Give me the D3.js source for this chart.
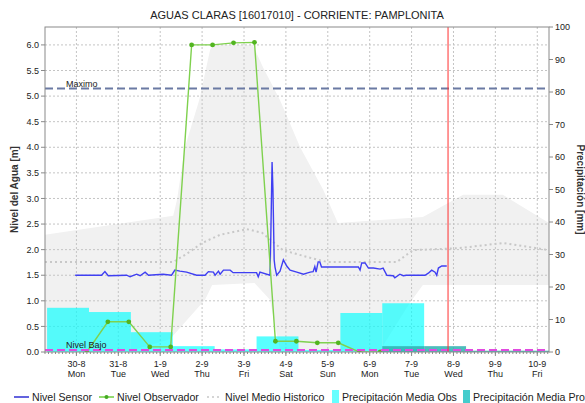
<!DOCTYPE html>
<html><head><meta charset="utf-8">
<script src="https://cdn.jsdelivr.net/npm/d3@7"></script>
<style>body{margin:0;background:#fff}svg{display:block;font-family:"Liberation Sans",Arial,sans-serif}</style>
</head><body><svg id="c" width="585" height="403"></svg>
<script>
// ---- data (x in days, 0 = 30-8 00:00) ----
const dayLabels = ["30-8","31-8","1-9","2-9","3-9","4-9","5-9","6-9","7-9","8-9","9-9","10-9"];
const weekLabels = ["Mon","Tue","Wed","Thu","Fri","Sat","Sun","Mon","Tue","Wed","Thu","Fri"];
const levelTicks = [0,0.5,1,1.5,2,2.5,3,3.5,4,4.5,5,5.5,6];
const precipTicks = [0,10,20,30,40,50,60,70,80,90,100];

const sensorT = [-0.03,0.60,0.68,0.76,1.20,1.28,1.44,1.52,1.64,1.72,2.07,2.27,2.35,2.47,2.63,2.87,3.07,3.15,3.27,3.31,3.39,3.43,3.51,3.67,3.74,4.30,4.34,4.38,4.62,4.64,4.67,4.69,4.72,4.74,4.78,4.86,4.94,5.02,5.10,5.26,5.42,5.50,5.58,5.65,5.69,5.72,5.77,5.81,5.85,5.93,6.73,6.77,6.81,6.89,6.97,7.09,7.25,7.32,7.41,7.56,7.60,7.72,7.80,7.88,8.32,8.40,8.48,8.56,8.60,8.64,8.72,8.84];
const sensorV = [1.50,1.50,1.57,1.49,1.50,1.47,1.52,1.49,1.56,1.50,1.52,1.50,1.60,1.58,1.56,1.50,1.50,1.57,1.56,1.50,1.58,1.52,1.60,1.60,1.55,1.55,1.47,1.56,1.50,2.27,3.71,3.20,1.80,1.66,1.50,1.58,1.80,1.68,1.60,1.56,1.52,1.54,1.56,1.57,1.67,1.56,1.76,1.76,1.66,1.66,1.66,1.60,1.74,1.74,1.64,1.64,1.62,1.64,1.50,1.49,1.45,1.52,1.49,1.50,1.50,1.54,1.60,1.56,1.50,1.64,1.68,1.68];

const obsT = [0.25,0.75,1.25,1.75,2.25,2.75,3.25,3.75,4.25,4.75,5.25,5.75,6.25,6.75,7.25];
const obsV = [0.0,0.59,0.59,0.10,0.10,6.00,6.00,6.04,6.05,0.21,0.21,0.18,0.18,0.0,0.0];

const meanT = [-0.75,1.28,2.31,2.60,3.0,3.43,4.07,4.43,4.93,5.58,5.98,7.65,8.03,9.15,10.18,11.28];
const meanV = [1.76,1.76,1.76,1.90,2.13,2.29,2.40,2.33,1.99,1.84,1.76,1.76,1.99,2.03,2.13,1.99];

const bandHiT = [-0.75,2.31,2.40,2.59,2.93,3.19,3.26,4.21,4.45,4.86,5.34,5.89,6.24,8.27,9.23,10.18,11.28];
const bandHiV = [2.29,2.66,2.97,4.00,4.92,5.90,6.00,6.00,5.57,4.92,4.00,3.17,2.52,2.64,3.07,3.07,2.52];
const bandLoT = [-0.75,1.28,2.23,3.07,3.24,4.25,4.62,4.86,7.24,7.96,8.27,11.28];
const bandLoV = [0,0.02,0.25,1.02,1.31,1.35,1.02,0.04,0.02,0.96,1.31,1.31];

const barStart = [-0.7,0.3,1.3,2.3,3.3,4.3,5.3,6.3,7.3,8.3,9.3,10.3];
const precipObs = [13.6,12.3,6.1,1.8,0.8,4.8,0.6,12.0,15.0,0,0,0];
const precipPro = [0,0,0,0,0,0,0,0,1.8,1.8,0.4,0.4];

const nivelMaximo = 5.15;
const nivelBajo = 0.04;
const nowT = 8.87;

// ---- layout ----
const L = 45, R = 549, T = 27, B = 352;
const svg = d3.select("#c");
const x = d3.scaleLinear().domain([-0.75, 11.28]).range([L, R]);
const y = d3.scaleLinear().domain([0, 6.35]).range([B, T]);
const yp = d3.scaleLinear().domain([0, 100]).range([B, T]);

svg.append("defs").append("clipPath").attr("id","clip")
  .append("rect").attr("x",L).attr("y",T).attr("width",R-L).attr("height",B-T);
const g = svg.append("g").attr("clip-path","url(#clip)");

// band
const bandPts = bandHiT.map((t,i)=>[x(t),y(bandHiV[i])])
  .concat(bandLoT.map((t,i)=>[x(t),y(bandLoV[i])]).reverse());
g.append("path").attr("d", d3.line()(bandPts) + "Z").attr("fill","#f1f1f1");

// grid
const gridC = "#c4c4c4";
g.selectAll(".gy").data(levelTicks.slice(1)).join("line")
  .attr("x1",L).attr("x2",R).attr("y1",d=>y(d)).attr("y2",d=>y(d))
  .attr("stroke",gridC).attr("stroke-width",1).attr("stroke-dasharray","2,2");
g.selectAll(".gx").data(dayLabels.map((d,i)=>i)).join("line")
  .attr("x1",d=>x(d)).attr("x2",d=>x(d)).attr("y1",T).attr("y2",B)
  .attr("stroke",gridC).attr("stroke-width",1).attr("stroke-dasharray","2,2");

// mean historic
g.append("path").datum(meanT.map((t,i)=>[t,meanV[i]]))
  .attr("d", d3.line().x(d=>x(d[0])).y(d=>y(d[1])))
  .attr("fill","none").attr("stroke","#c8c8c8").attr("stroke-width",2).attr("stroke-dasharray","2,3");

// bars
g.selectAll(".bo").data(barStart.map((s,i)=>({s,v:precipObs[i]}))).join("rect")
  .attr("x",d=>x(d.s)).attr("width",d=>x(d.s+1)-x(d.s))
  .attr("y",d=>yp(d.v)).attr("height",d=>B-yp(d.v))
  .attr("fill","#00ffff").attr("fill-opacity",0.65);
g.selectAll(".bp").data(barStart.map((s,i)=>({s,v:precipPro[i]}))).join("rect")
  .attr("x",d=>x(d.s)).attr("width",d=>x(d.s+1)-x(d.s))
  .attr("y",d=>yp(d.v)).attr("height",d=>B-yp(d.v))
  .attr("fill","#2fb0b0").attr("fill-opacity",0.85);

// sensor
g.append("path").datum(sensorT.map((t,i)=>[t,sensorV[i]]))
  .attr("d", d3.line().x(d=>x(d[0])).y(d=>y(d[1])))
  .attr("fill","none").attr("stroke","#3f3ff2").attr("stroke-width",1.4);

// observer
const obsData = obsT.map((t,i)=>[t,obsV[i]]);
g.append("path").datum(obsData)
  .attr("d", d3.line().x(d=>x(d[0])).y(d=>y(d[1])))
  .attr("fill","none").attr("stroke","#7fd14e").attr("stroke-width",1.4);
g.selectAll(".od").data(obsData).join("circle")
  .attr("cx",d=>x(d[0])).attr("cy",d=>y(d[1])).attr("r",2.4).attr("fill","#52b520");

// thresholds
g.append("line").attr("x1",L).attr("x2",R).attr("y1",y(nivelMaximo)).attr("y2",y(nivelMaximo))
  .attr("stroke","#6b7aa3").attr("stroke-width",2).attr("stroke-dasharray","8,4");
g.append("line").attr("x1",L).attr("x2",R).attr("y1",y(nivelBajo)).attr("y2",y(nivelBajo))
  .attr("stroke","#e24ae0").attr("stroke-width",2).attr("stroke-dasharray","8,4");
svg.append("text").attr("x",66).attr("y",y(nivelMaximo)-1).text("Maximo")
  .attr("font-size",9).attr("fill","#222");
svg.append("text").attr("x",66).attr("y",y(nivelBajo)-1.5).text("Nivel Bajo")
  .attr("font-size",9).attr("fill","#222");

// now line
g.append("line").attr("x1",x(nowT)).attr("x2",x(nowT)).attr("y1",T).attr("y2",B)
  .attr("stroke","#ff3030").attr("stroke-width",1);

// frame
svg.append("rect").attr("x",L).attr("y",T).attr("width",R-L).attr("height",B-T)
  .attr("fill","none").attr("stroke","#8a8a8a").attr("stroke-width",1);

// axes
const axC = "#8a8a8a";
const ax = svg.append("g").attr("font-size",9).attr("fill","#222");
levelTicks.forEach(v=>{
  ax.append("line").attr("x1",L-4).attr("x2",L).attr("y1",y(v)).attr("y2",y(v)).attr("stroke",axC);
  ax.append("text").attr("x",L-6).attr("y",y(v)+3.2).attr("text-anchor","end").text(d3.format(".1f")(v));
});
precipTicks.forEach(v=>{
  ax.append("line").attr("x1",R).attr("x2",R+4).attr("y1",yp(v)).attr("y2",yp(v)).attr("stroke",axC);
  ax.append("text").attr("x",R+6).attr("y",yp(v)+3.2).text(v);
});
// minor ticks every 2 hours
d3.range(-0.75, 11.28, 1/12).forEach(t=>{
  const tt = Math.ceil(t*12)/12;
  ax.append("line").attr("x1",x(tt)).attr("x2",x(tt)).attr("y1",B).attr("y2",B+2).attr("stroke",axC);
});
dayLabels.forEach((d,i)=>{
  ax.append("line").attr("x1",x(i)).attr("x2",x(i)).attr("y1",B).attr("y2",B+4).attr("stroke",axC);
  ax.append("text").attr("x",x(i)).attr("y",366.5).attr("text-anchor","middle").text(d);
  ax.append("text").attr("x",x(i)).attr("y",376.5).attr("text-anchor","middle").text(weekLabels[i]);
});

// titles
svg.append("text").attr("x",(L+R)/2).attr("y",19).attr("text-anchor","middle")
  .attr("font-size",11).attr("fill","#222").text("AGUAS CLARAS [16017010] - CORRIENTE: PAMPLONITA");
svg.append("text").attr("transform",`translate(18,${(T+B)/2}) rotate(-90)`).attr("text-anchor","middle")
  .attr("font-size",10).attr("font-weight","bold").attr("fill","#333").text("Nivel del Agua [m]");
svg.append("text").attr("transform",`translate(577,${(T+B)/2}) rotate(90)`).attr("text-anchor","middle")
  .attr("font-size",10).attr("font-weight","bold").attr("fill","#333").text("Precipitación [mm]");

// legend
const lg = svg.append("g").attr("font-size",10.6).attr("fill","#222");
const ly = 397;
lg.append("line").attr("x1",14).attr("x2",29).attr("y1",ly).attr("y2",ly).attr("stroke","#2020d0").attr("stroke-width",1.4);
lg.append("text").attr("x",32).attr("y",ly+4).text("Nivel Sensor");
lg.append("line").attr("x1",99).attr("x2",114).attr("y1",ly).attr("y2",ly).attr("stroke","#66cc33").attr("stroke-width",1.4);
lg.append("circle").attr("cx",106.5).attr("cy",ly).attr("r",2).attr("fill","#44aa22");
lg.append("text").attr("x",117).attr("y",ly+4).text("Nivel Observador");
lg.append("line").attr("x1",207).attr("x2",222).attr("y1",ly).attr("y2",ly).attr("stroke","#c8c8c8").attr("stroke-width",1.4).attr("stroke-dasharray","2,3");
lg.append("text").attr("x",225).attr("y",ly+4).text("Nivel Medio Historico");
lg.append("rect").attr("x",332).attr("y",390).attr("width",7).attr("height",13).attr("fill","#66ffff");
lg.append("text").attr("x",342).attr("y",ly+4).text("Precipitación Media Obs");
lg.append("rect").attr("x",463).attr("y",390).attr("width",7).attr("height",13).attr("fill","#44cccc");
lg.append("text").attr("x",473).attr("y",ly+4).text("Precipitación Media Pro");
</script></body></html>
